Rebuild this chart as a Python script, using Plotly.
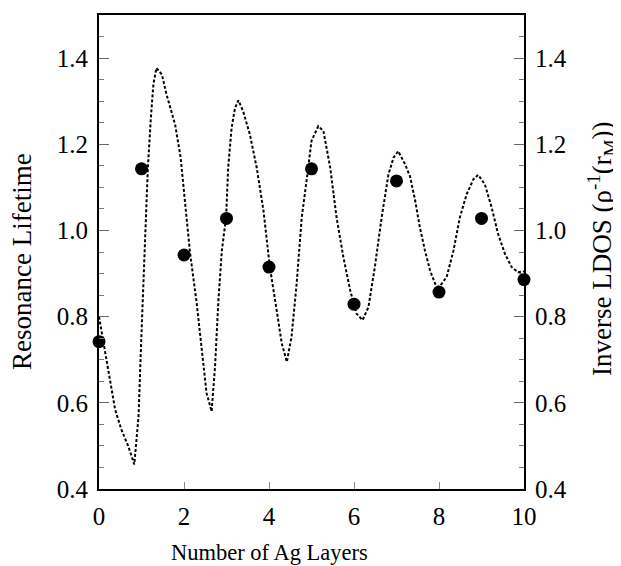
import plotly.graph_objects as go

# Measured resonance lifetime (points)
layers = [0, 1, 2, 3, 4, 5, 6, 7, 8, 9, 10]
lifetime = [0.742, 1.143, 0.943, 1.028, 0.915, 1.143, 0.829, 1.115, 0.857, 1.028, 0.886]

# Inverse LDOS curve (dotted)
ldos_x = [0.00, 0.14, 0.26, 0.38, 0.53, 0.69, 0.83, 0.93, 1.00, 1.08, 1.15, 1.22, 1.28, 1.35,
          1.48, 1.59, 1.79, 1.92, 2.14, 2.30, 2.42, 2.53, 2.65, 2.73, 2.81, 2.89, 2.99, 3.04,
          3.12, 3.20, 3.28, 3.39, 3.55, 3.71, 3.87, 4.02, 4.18, 4.30, 4.42, 4.53, 4.65, 4.77,
          4.89, 5.00, 5.16, 5.28, 5.44, 5.59, 5.75, 5.91, 6.06, 6.20, 6.34, 6.49, 6.65, 6.81,
          6.93, 7.04, 7.20, 7.32, 7.44, 7.55, 7.67, 7.79, 7.91, 8.00, 8.18, 8.34, 8.49, 8.65,
          8.81, 8.92, 9.08, 9.24, 9.39, 9.55, 9.71, 9.86, 10.00]
ldos_y = [0.800, 0.722, 0.646, 0.584, 0.537, 0.499, 0.457, 0.568, 0.762, 0.953, 1.146, 1.261, 1.339, 1.377,
          1.362, 1.315, 1.246, 1.170, 0.950, 0.830, 0.720, 0.623, 0.580, 0.684, 0.838, 0.953, 1.030, 1.146,
          1.238, 1.284, 1.302, 1.277, 1.223, 1.146, 1.046, 0.915, 0.815, 0.738, 0.695, 0.753, 0.876, 1.030,
          1.120, 1.208, 1.242, 1.231, 1.146, 1.030, 0.938, 0.861, 0.807, 0.792, 0.822, 0.915, 1.030, 1.130,
          1.169, 1.184, 1.154, 1.125, 1.069, 1.007, 0.953, 0.907, 0.876, 0.868, 0.892, 0.953, 1.030, 1.084,
          1.119, 1.129, 1.107, 1.053, 0.992, 0.946, 0.915, 0.903, 0.905]

x_ticks = [0, 2, 4, 6, 8, 10]
y_ticks = [0.4, 0.6, 0.8, 1.0, 1.2, 1.4]
y_tick_text = ["0.4", "0.6", "0.8", "1.0", "1.2", "1.4"]

FONT = "Liberation Serif, Times New Roman, serif"

fig = go.Figure()
fig.add_trace(go.Scatter(
    x=ldos_x, y=ldos_y, mode="lines", yaxis="y2",
    line=dict(color="black", width=2, dash="3px,2px"),
    showlegend=False, hoverinfo="skip"))
fig.add_trace(go.Scatter(
    x=layers, y=lifetime, mode="markers",
    marker=dict(color="black", size=13),
    cliponaxis=False, showlegend=False))

yax_common = dict(
    range=[0.4, 1.5], tickmode="array", tickvals=y_ticks, ticktext=y_tick_text,
    ticks="inside", ticklen=10, tickwidth=1, tickcolor="#666",
    minor=dict(dtick=0.05, ticks="inside", ticklen=5, tickwidth=1, tickcolor="#777", showgrid=False),
    showgrid=False, zeroline=False, showline=True, linecolor="black", linewidth=2,
    tickfont=dict(family=FONT, size=25, color="black"),
    ticklabelstandoff=4,
)

fig.update_layout(
    width=621, height=566,
    margin=dict(l=91, r=105, t=5, b=85),
    paper_bgcolor="white", plot_bgcolor="white",
    font=dict(family=FONT, color="black"),
    xaxis=dict(
        range=[0, 10], tickmode="array", tickvals=x_ticks,
        ticks="inside", ticklen=7, tickwidth=1, tickcolor="#888",
        showgrid=False, zeroline=False, showline=True, mirror=True,
        linecolor="black", linewidth=2,
        tickfont=dict(family=FONT, size=25, color="black"),
        ticklabelstandoff=4,
    ),
    yaxis=dict(side="left", **yax_common),
    yaxis2=dict(side="right", overlaying="y", **yax_common),
    annotations=[
        dict(text="Number of Ag Layers", xref="paper", yref="paper",
             x=0.402, y=-0.134, xanchor="center", yanchor="middle", showarrow=False,
             font=dict(family=FONT, size=22.5, color="black")),
        dict(text="Resonance Lifetime", xref="paper", yref="paper",
             x=-0.18, y=0.48, xanchor="center", yanchor="middle", showarrow=False, textangle=-90,
             font=dict(family=FONT, size=27, color="black")),
        dict(text="Inverse LDOS (ρ<sup>-1</sup>(r<sub>M</sub>))", xref="paper", yref="paper",
             x=1.183, y=0.506, xanchor="center", yanchor="middle", showarrow=False, textangle=-90,
             font=dict(family=FONT, size=27, color="black")),
    ],
)

fig.write_html("out.html")
